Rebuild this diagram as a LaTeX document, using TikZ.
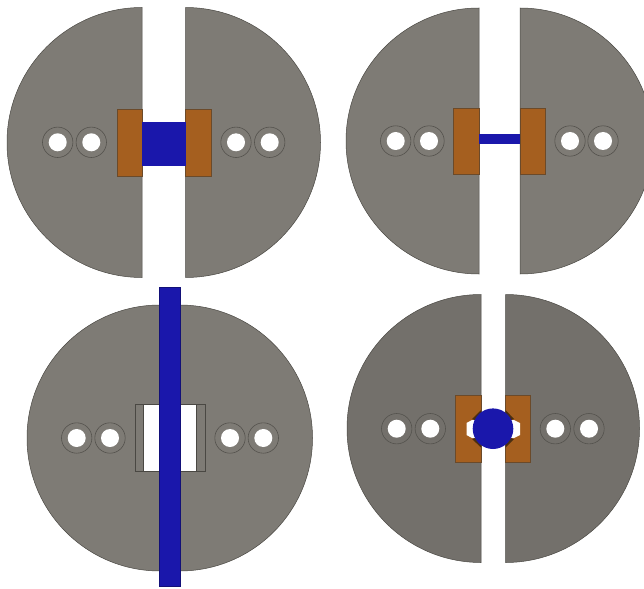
\documentclass[tikz,border=0pt]{standalone}
\definecolor{discA}{HTML}{7E7B75}
\definecolor{discB}{HTML}{73706B}
\definecolor{edgeD}{HTML}{4A4843}
\definecolor{brownC}{HTML}{A55F1F}
\definecolor{brownE}{HTML}{6B4A2A}
\definecolor{blueC}{HTML}{1A17AB}
\definecolor{wedgeC}{HTML}{4A2E12}
\tikzset{
  x=1pt,y=-1pt,
  outline/.style={draw=edgeD,line width=0.5pt},
  brownpad/.style={fill=brownC,draw=brownE,line width=0.7pt},
  bluepart/.style={fill=blueC,draw=blueC!70!black,line width=0.5pt},
}
\newcommand{\ringhole}[2]{%
  \draw[draw=edgeD!80!discA,line width=0.6pt] (#1,#2) circle[radius=15.2];
  \fill[white] (#1,#2) circle[radius=9];
}
% slot left, slot right, centre y, radius, fill
\newcommand{\halves}[5]{%
  \draw[outline,fill=#5] (#1,{#3-#4}) arc[start angle=-90,end angle=-270,radius=#4] -- cycle;
  \draw[outline,fill=#5] (#2,{#3-#4}) arc[start angle=-90,end angle=90,radius=#4] -- cycle;
}
\begin{document}
\begin{tikzpicture}
\useasboundingbox (0,0) rectangle (644,588);
\fill[white] (0,0) rectangle (644,588);
\clip (0,0) rectangle (644,588);

% top left
\halves{142}{185.5}{142.5}{135}{discA}
\draw[brownpad] (117,109.5) rectangle (142,176);
\draw[brownpad] (185.5,109.5) rectangle (211,176);
\fill[blueC] (142,122) rectangle (185.5,165.5);
\foreach \hx in {57.7,91.3,236,269.7} {\ringhole{\hx}{142.3}}

% top right
\halves{479}{520}{141}{133}{discA}
\draw[brownpad] (453.5,108) rectangle (479,174);
\draw[brownpad] (520,108) rectangle (545.5,174);
\fill[blueC] (479,134) rectangle (520,144.5);
\foreach \hx in {395.7,429,570,603} {\ringhole{\hx}{141}}

% bottom left
\draw[outline,fill=discA] (160,305) arc[start angle=-90,end angle=-270,radius=133] -- (179.5,571) arc[start angle=90,end angle=-90,radius=133] -- cycle;
\draw[outline] (135,404.5) rectangle (205,471);
\fill[white] (143.7,405) rectangle (196,470.5);
\draw[outline] (143.7,404.5) -- (143.7,471);
\draw[outline] (196,404.5) -- (196,471);
\draw[bluepart] (159.7,287) rectangle (179.8,586);
\foreach \hx in {76.7,110,230,263.3} {\ringhole{\hx}{438}}

% bottom right
\halves{481}{505.5}{428.5}{134}{discB}
\draw[brownpad] (455.5,395) rectangle (481,462.5);
\draw[brownpad] (505.5,395) rectangle (530.5,462.5);
\fill[white] (466.5,423) -- (472,420) -- (514,420) -- (520,423) -- (520,435) -- (514,438) -- (472,438) -- (466.5,435) -- cycle;
\fill[wedgeC] (472,419) -- (481,410) -- (481,414) -- (475,420) -- cycle;
\fill[wedgeC] (514,419) -- (505.5,410) -- (505.5,414) -- (511,420) -- cycle;
\fill[wedgeC] (472,439) -- (481,447.5) -- (481,443.5) -- (475,438) -- cycle;
\fill[wedgeC] (514,439) -- (505.5,447.5) -- (505.5,443.5) -- (511,438) -- cycle;
\fill[blueC] (493,428.7) circle[radius=20.3];
\foreach \hx in {396.7,430.3,555.3,589} {\ringhole{\hx}{428.7}}
\end{tikzpicture}
\end{document}
